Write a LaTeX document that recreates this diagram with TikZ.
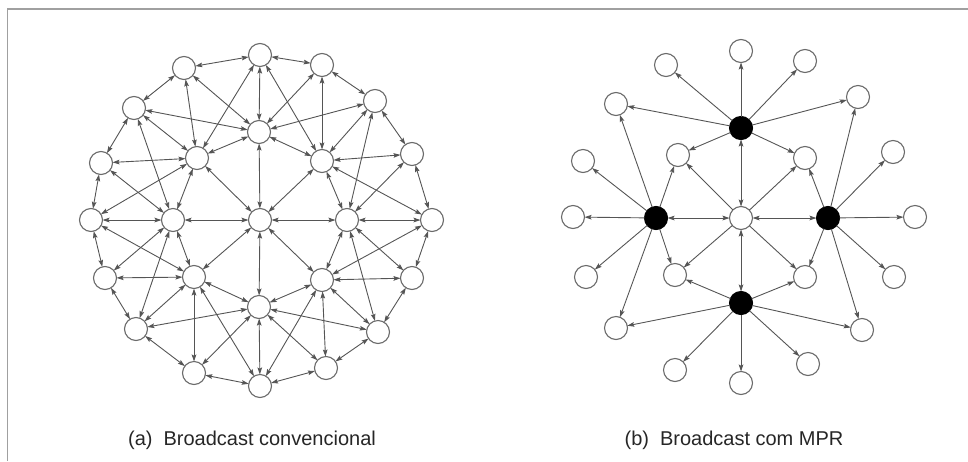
\documentclass[tikz,border=0pt]{standalone}
\usetikzlibrary{arrows.meta}
\usepackage{fontspec}
\setmainfont{Liberation Sans}
\definecolor{edgecol}{HTML}{555555}
\definecolor{nodecol}{HTML}{6A6A6A}
\definecolor{framecol}{HTML}{A0A0A0}
\begin{document}
\begin{tikzpicture}[x=1pt,y=-1pt,
  wnode/.style={circle,draw=nodecol,line width=1.1pt,fill=white,minimum size=23pt,inner sep=0pt,outer sep=0pt},
  bnode/.style={wnode,fill=black,draw=black},
  tip/.tip={Stealth[length=7pt,width=4.6pt,inset=1.2pt]},
  edge/.style={draw=edgecol,line width=0.9pt,tip-tip},
  oneway/.style={draw=edgecol,line width=0.9pt,-tip},
  caption/.style={anchor=base,font=\fontsize{20}{24}\selectfont,text=black!85}]
\useasboundingbox (0,0) rectangle (968,461);
\draw[framecol,line width=1.5pt] (7.5,461) -- (7.5,9) -- (968,9);
% ---------- (a) conventional broadcast ----------
\foreach \n/\x/\y in {lo0/260/55,lo1/322/65,lo2/375/101,lo3/412/154,lo4/432/220,lo5/412/278,
  lo6/378/332,lo7/326/368,lo8/260/386,lo9/194/373,lo10/136/329,lo11/105/278,lo12/91/220,
  lo13/101/163,lo14/134/108,lo15/184/68,
  li0/259/132,li1/322/161,li2/347/220,li3/322/280,li4/259/307,li5/194/277,li6/173/220,li7/197/158,
  lc/260/220}
  \node[wnode] (\n) at (\x,\y) {};
\foreach \i in {0,...,15}{
  \pgfmathtruncatemacro\myN{mod(\i+1,16)}
  \draw[edge] (lo\i) -- (lo\myN);
}
\foreach \k in {0,...,7}{
  \pgfmathtruncatemacro\myE{2*\k}
  \pgfmathtruncatemacro\myO{2*\k+1}
  \pgfmathtruncatemacro\myP{mod(\k+1,8)}
  \pgfmathtruncatemacro\myM{mod(\k+7,8)}
  \draw[edge] (lc) -- (li\k);
  \draw[edge] (li\k) -- (li\myP);
  \draw[edge] (lo\myE) -- (li\k);
  \draw[edge] (lo\myE) -- (li\myP);
  \draw[edge] (lo\myE) -- (li\myM);
  \draw[edge] (lo\myO) -- (li\k);
  \draw[edge] (lo\myO) -- (li\myP);
}
\node[caption] (capa) at (252,445) {(a)\hspace{0.55em}Broadcast convencional};
% ---------- (b) broadcast with MPR ----------
\foreach \n/\x/\y in {ro1/741/51,ro2/666/65,ro3/805/61,ro4/616/104,ro5/858/97,ro6/583/161,
  ro7/893/152,ro8/573/217,ro9/915/217,ro10/586/277,ro11/894/277,ro12/616/328,ro13/862/330,
  ro14/675/370,ro15/808/364,ro16/741/383,
  ra/678/155,rb/805/158,rc/675/275,rd/805/277,rc0/741/218}
  \node[wnode] (\n) at (\x,\y) {};
\foreach \n/\x/\y in {rT/741/128,rL/656/218,rR/828/218,rB/741/303}
  \node[bnode] (\n) at (\x,\y) {};
\foreach \m in {rT,rL,rR,rB} \draw[edge] (rc0) -- (\m);
\foreach \m in {ra,rb,rc,rd} \draw[oneway] (rc0) -- (\m);
\foreach \m in {ro1,ro2,ro3,ro4,ro5,ra,rb} \draw[oneway] (rT) -- (\m);
\foreach \m in {ro4,ro6,ro8,ro10,ro12,ra,rc} \draw[oneway] (rL) -- (\m);
\foreach \m in {ro5,ro7,ro9,ro11,ro13,rb,rd} \draw[oneway] (rR) -- (\m);
\foreach \m in {ro12,ro14,ro16,ro15,ro13,rc,rd} \draw[oneway] (rB) -- (\m);
\node[caption] (capb) at (734,445) {(b)\hspace{0.55em}Broadcast com MPR};
\end{tikzpicture}
\end{document}
